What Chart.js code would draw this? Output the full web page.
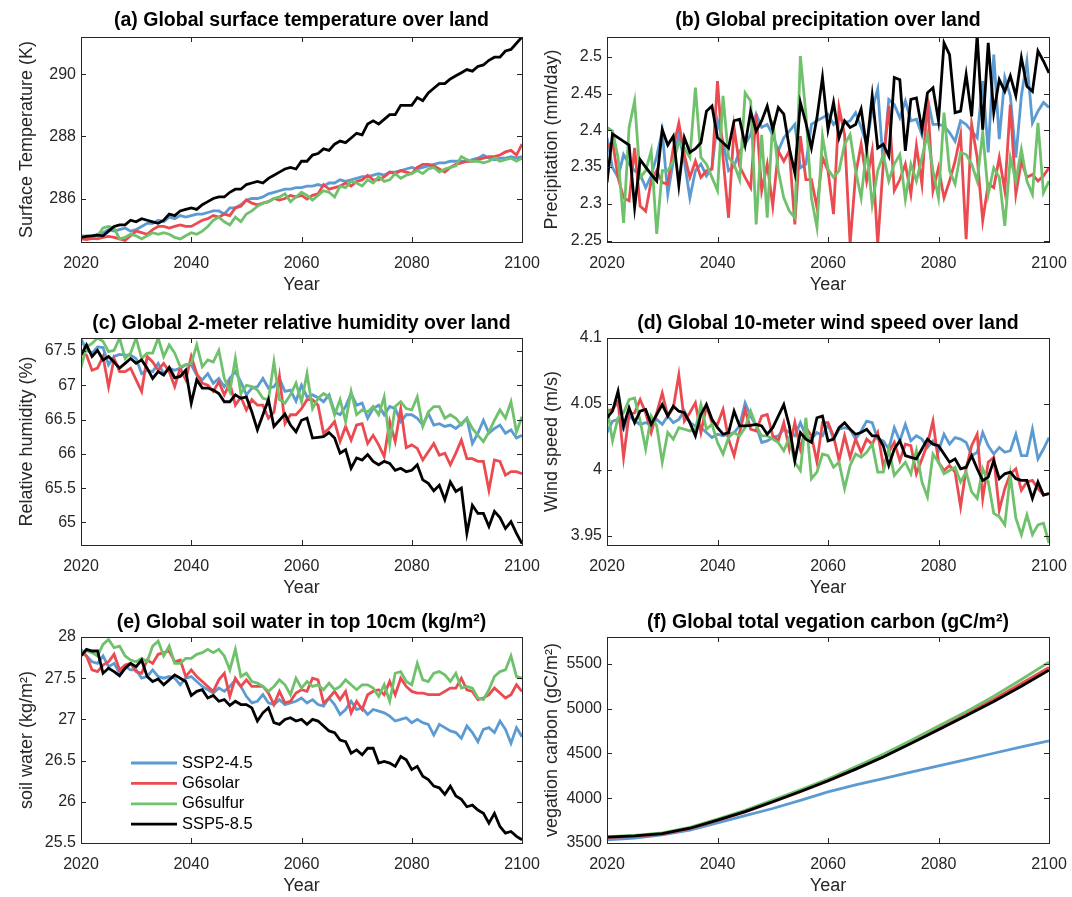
<!DOCTYPE html>
<html>
<head>
<meta charset="utf-8">
<script src="https://cdn.jsdelivr.net/npm/chart.js@4.4.1/dist/chart.umd.min.js"></script>
<style>
  html, body { margin: 0; padding: 0; background: #fff; }
  #fig { position: relative; width: 1072px; height: 897px; overflow: hidden; }
  .panel { position: absolute; }
</style>
</head>
<body>
<div id="fig">
  <div class="panel" style="left:0;top:0;width:550px;height:300px"><canvas id="pa"></canvas></div>
  <div class="panel" style="left:536px;top:0;width:536px;height:300px"><canvas id="pb"></canvas></div>
  <div class="panel" style="left:0;top:300px;width:550px;height:300px"><canvas id="pc"></canvas></div>
  <div class="panel" style="left:536px;top:300px;width:536px;height:300px"><canvas id="pd"></canvas></div>
  <div class="panel" style="left:0;top:600px;width:550px;height:297px"><canvas id="pe"></canvas></div>
  <div class="panel" style="left:536px;top:600px;width:536px;height:297px"><canvas id="pf"></canvas></div>
</div>
<script>
// ---- data ----
const seriesNames = ['SSP2-4.5', 'G6solar', 'G6sulfur', 'SSP5-8.5'];
const years = Array.from({ length: 81 }, (_, i) => 2020 + i);
const vegYears = [2020, 2025, 2030, 2035, 2040, 2045, 2050, 2055, 2060, 2065, 2070, 2075, 2080, 2085, 2090, 2095, 2100];
const yearTicks = [2020, 2040, 2060, 2080, 2100];

// (a) surface temperature (K)
const tempSSP245 = [
  284.75, 284.78, 284.80, 284.85, 284.90, 285.00, 284.95, 285.00, 285.05, 284.95,
  285.00, 285.10, 285.20, 285.20, 285.30, 285.25, 285.40, 285.35, 285.45, 285.40,
  285.45, 285.50, 285.50, 285.55, 285.60, 285.60, 285.50, 285.70, 285.70, 285.80,
  285.95, 286.00, 286.00, 286.05, 286.15, 286.20, 286.25, 286.30, 286.30, 286.35,
  286.35, 286.40, 286.40, 286.45, 286.40, 286.50, 286.50, 286.60, 286.55, 286.60,
  286.65, 286.70, 286.70, 286.75, 286.80, 286.75, 286.85, 286.85, 286.90, 286.95,
  287.00, 286.95, 287.00, 287.05, 287.10, 287.15, 287.15, 287.20, 287.20, 287.20,
  287.20, 287.25, 287.30, 287.40, 287.30, 287.25, 287.30, 287.30, 287.35, 287.30,
  287.35];
const tempG6solar = [
  284.70, 284.68, 284.72, 284.70, 284.75, 284.78, 284.75, 284.70, 284.65, 284.80,
  284.95, 284.90, 284.85, 285.00, 285.10, 285.10, 285.05, 285.10, 285.15, 285.10,
  285.10, 285.20, 285.30, 285.35, 285.45, 285.40, 285.50, 285.45, 285.70, 285.75,
  285.95, 285.85, 285.80, 285.85, 285.90, 286.00, 285.95, 286.00, 286.10, 286.05,
  286.10, 285.98, 286.10, 286.15, 286.45, 286.30, 286.35, 286.40, 286.50, 286.40,
  286.55, 286.60, 286.75, 286.60, 286.60, 286.70, 286.85, 286.80, 286.90, 286.85,
  286.80, 287.00, 287.10, 287.10, 287.05, 286.95, 286.85, 287.00, 287.10, 287.15,
  287.20, 287.20, 287.25, 287.30, 287.35, 287.35, 287.40, 287.50, 287.55, 287.40,
  287.75];
const tempG6sulfur = [
  284.80, 284.80, 284.78, 284.80, 285.05, 285.10, 285.05, 284.70, 284.75, 284.85,
  284.80, 284.70, 284.80, 284.90, 284.85, 284.90, 284.85, 284.75, 284.70, 284.80,
  284.90, 284.85, 284.95, 285.10, 285.30, 285.40, 285.25, 285.15, 285.40, 285.25,
  285.50, 285.60, 285.75, 285.85, 285.90, 286.00, 286.05, 286.15, 285.90, 286.05,
  286.20, 286.10, 285.95, 286.10, 286.25, 286.20, 286.05, 286.40, 286.35, 286.55,
  286.50, 286.40, 286.60, 286.50, 286.70, 286.55, 286.60, 286.80, 286.65, 286.75,
  286.80, 286.90, 286.80, 286.95, 287.00, 286.85, 286.95, 287.00, 287.05, 287.35,
  287.25, 287.20, 287.20, 287.15, 287.20, 287.30, 287.20, 287.25, 287.30, 287.20,
  287.30];
const tempSSP585 = [
  284.75, 284.78, 284.80, 284.82, 284.80, 284.95, 285.10, 285.15, 285.15, 285.30,
  285.25, 285.35, 285.30, 285.25, 285.20, 285.30, 285.50, 285.45, 285.60, 285.65,
  285.70, 285.65, 285.80, 285.90, 286.00, 286.05, 286.05, 286.20, 286.30, 286.30,
  286.45, 286.50, 286.55, 286.50, 286.65, 286.75, 286.85, 286.95, 287.00, 286.95,
  287.20, 287.20, 287.40, 287.45, 287.60, 287.55, 287.75, 287.85, 287.80, 287.95,
  288.10, 288.05, 288.40, 288.50, 288.40, 288.55, 288.70, 288.70, 289.00, 289.00,
  289.00, 289.25, 289.15, 289.40, 289.55, 289.70, 289.70, 289.85, 289.95, 290.05,
  290.15, 290.10, 290.25, 290.30, 290.45, 290.55, 290.55, 290.75, 290.80, 291.00,
  291.20];
const tempTicks = [286, 288, 290];

// (b) precipitation (mm/day)
const precipSSP245 = [
  2.390, 2.349, 2.336, 2.367, 2.354, 2.345, 2.340, 2.322, 2.338, 2.365,
  2.399, 2.313, 2.358, 2.394, 2.358, 2.308, 2.345, 2.354, 2.338, 2.349,
  2.413, 2.385, 2.345, 2.351, 2.372, 2.381, 2.394, 2.422, 2.404, 2.408,
  2.394, 2.372, 2.390, 2.399, 2.408, 2.349, 2.354, 2.408, 2.413, 2.417,
  2.422, 2.408, 2.417, 2.410, 2.413, 2.424, 2.404, 2.381, 2.428, 2.456,
  2.354, 2.442, 2.435, 2.417, 2.440, 2.413, 2.415, 2.394, 2.444, 2.408,
  2.408, 2.406, 2.397, 2.385, 2.413, 2.408, 2.399, 2.390, 2.467, 2.370,
  2.503, 2.388, 2.472, 2.447, 2.363, 2.447, 2.494, 2.410, 2.426, 2.438,
  2.431];
const precipG6solar = [
  2.376, 2.385, 2.336, 2.308, 2.304, 2.376, 2.297, 2.290, 2.331, 2.345,
  2.329, 2.327, 2.376, 2.410, 2.367, 2.336, 2.358, 2.336, 2.345, 2.347,
  2.467, 2.363, 2.281, 2.404, 2.351, 2.336, 2.322, 2.422, 2.318, 2.354,
  2.297, 2.372, 2.358, 2.372, 2.272, 2.392, 2.333, 2.333, 2.295, 2.363,
  2.345, 2.286, 2.431, 2.394, 2.245, 2.340, 2.381, 2.331, 2.372, 2.245,
  2.354, 2.433, 2.318, 2.333, 2.354, 2.313, 2.379, 2.327, 2.444, 2.318,
  2.349, 2.308, 2.331, 2.358, 2.394, 2.252, 2.408, 2.363, 2.277, 2.327,
  2.322, 2.363, 2.318, 2.435, 2.313, 2.358, 2.336, 2.340, 2.331, 2.338,
  2.349];
const precipG6sulfur = [
  2.404, 2.399, 2.363, 2.274, 2.404, 2.440, 2.336, 2.345, 2.372, 2.259,
  2.345, 2.345, 2.358, 2.383, 2.376, 2.363, 2.458, 2.363, 2.354, 2.336,
  2.318, 2.447, 2.363, 2.354, 2.333, 2.451, 2.440, 2.272, 2.394, 2.281,
  2.413, 2.345, 2.308, 2.290, 2.281, 2.501, 2.422, 2.308, 2.268, 2.392,
  2.347, 2.336, 2.345, 2.381, 2.394, 2.345, 2.308, 2.376, 2.299, 2.345,
  2.367, 2.331, 2.354, 2.367, 2.306, 2.354, 2.331, 2.363, 2.394, 2.345,
  2.308, 2.424, 2.345, 2.327, 2.370, 2.367, 2.354, 2.331, 2.397, 2.313,
  2.349, 2.336, 2.270, 2.363, 2.331, 2.374, 2.331, 2.313, 2.410, 2.315,
  2.331];
const precipSSP585 = [
  2.329, 2.395, 2.390, 2.385, 2.380, 2.295, 2.360, 2.350, 2.340, 2.331,
  2.401, 2.380, 2.392, 2.325, 2.390, 2.370, 2.375, 2.383, 2.426, 2.433,
  2.390, 2.383, 2.376, 2.413, 2.415, 2.380, 2.426, 2.399, 2.413, 2.433,
  2.401, 2.431, 2.422, 2.376, 2.342, 2.438, 2.410, 2.376, 2.417, 2.472,
  2.401, 2.438, 2.390, 2.413, 2.404, 2.408, 2.429, 2.376, 2.447, 2.376,
  2.381, 2.365, 2.472, 2.469, 2.372, 2.442, 2.444, 2.401, 2.451, 2.458,
  2.413, 2.519, 2.503, 2.424, 2.426, 2.476, 2.419, 2.530, 2.401, 2.519,
  2.424, 2.469, 2.453, 2.474, 2.447, 2.499, 2.460, 2.453, 2.508, 2.494,
  2.478];
const precipTicks = [2.25, 2.3, 2.35, 2.4, 2.45, 2.5];

// (c) 2-m relative humidity (%)
const rhSSP245 = [
  67.68, 67.51, 67.47, 67.56, 67.55, 67.30, 67.42, 67.45, 67.44, 67.44,
  67.39, 67.17, 67.22, 67.20, 67.32, 67.17, 67.25, 67.22, 67.25, 67.30,
  67.30, 67.15, 67.08, 67.17, 67.03, 67.10, 66.98, 67.10, 67.20, 67.05,
  66.86, 66.96, 66.98, 67.10, 66.96, 66.98, 67.10, 66.91, 66.93, 66.77,
  67.00, 66.83, 66.86, 66.82, 66.76, 66.86, 66.61, 66.57, 66.69, 66.88,
  66.71, 66.74, 66.52, 66.66, 66.71, 66.57, 66.69, 66.66, 66.47, 66.57,
  66.57, 66.52, 66.42, 66.59, 66.42, 66.44, 66.40, 66.42, 66.37, 66.44,
  66.52, 66.15, 66.30, 66.49, 66.30, 66.37, 66.42, 66.30, 66.35, 66.23,
  66.27];
const rhG6solar = [
  67.49, 67.44, 67.22, 67.25, 67.42, 66.98, 67.39, 67.20, 67.20, 67.25,
  67.08, 66.91, 67.42, 67.34, 67.22, 67.32, 67.20, 66.98, 67.25, 67.08,
  67.42, 67.17, 67.03, 67.00, 66.91, 67.05, 66.86, 67.03, 66.71, 66.83,
  66.64, 66.79, 66.71, 66.71, 66.52, 66.61, 67.13, 66.44, 66.57, 66.57,
  66.66, 66.79, 66.79, 66.71, 66.30, 66.37, 66.47, 66.18, 66.40, 66.20,
  66.42, 66.44, 66.15, 66.27, 66.13, 65.96, 66.47, 66.18, 66.66, 66.09,
  66.13, 66.08, 65.91, 66.03, 66.15, 65.98, 66.01, 65.84, 66.01, 66.20,
  65.93, 65.93, 65.89, 65.89, 65.47, 65.91, 65.89, 65.69, 65.74, 65.74,
  65.71];
const rhG6sulfur = [
  67.26, 67.56, 67.61, 67.69, 67.64, 67.49, 67.51, 67.69, 67.39, 67.47,
  67.69, 67.39, 67.47, 67.47, 67.69, 67.42, 67.59, 67.47, 67.27, 67.30,
  67.32, 67.59, 67.27, 67.37, 67.34, 67.51, 67.10, 66.91, 67.39, 66.88,
  67.00, 66.98, 66.93, 66.81, 66.79, 67.34, 66.79, 66.74, 66.86, 67.03,
  66.76, 67.17, 66.66, 66.81, 66.88, 66.83, 66.57, 66.79, 66.47, 66.91,
  66.57, 66.64, 66.61, 66.69, 66.57, 66.83, 66.15, 66.69, 66.76, 66.66,
  66.64, 66.83, 66.40, 66.61, 66.69, 66.69, 66.52, 66.57, 66.52, 66.42,
  66.52, 66.37, 66.27, 66.18, 66.32, 66.49, 66.64, 66.52, 66.76, 66.32,
  66.54];
const rhSSP585 = [
  67.44, 67.59, 67.42, 67.51, 67.37, 67.42, 67.34, 67.25, 67.32, 67.39,
  67.32, 67.37, 67.25, 67.10, 67.20, 67.15, 67.26, 67.11, 67.13, 67.22,
  66.74, 67.08, 66.96, 66.96, 66.93, 66.88, 66.76, 66.76, 66.86, 66.81,
  66.83, 66.61, 66.35, 66.57, 66.79, 66.40, 66.49, 66.58, 66.42, 66.32,
  66.49, 66.52, 66.23, 66.24, 66.25, 66.31, 66.23, 66.01, 66.06, 65.79,
  65.94, 65.91, 65.99, 65.89, 65.84, 65.89, 65.86, 65.76, 65.79, 65.74,
  65.76, 65.84, 65.62, 65.57, 65.46, 65.54, 65.33, 65.59, 65.45, 65.50,
  64.84, 65.25, 65.13, 65.13, 64.94, 65.16, 65.07, 64.91, 65.01, 64.84,
  64.69];
const rhTicks = [65, 65.5, 66, 66.5, 67, 67.5];

// (d) 10-m wind speed (m/s)
const windSSP245 = [
  4.0283, 4.0370, 4.0383, 4.0308, 4.0408, 4.0370, 4.0345, 4.0358, 4.0345, 4.0383,
  4.0345, 4.0408, 4.0358, 4.0383, 4.0445, 4.0358, 4.0333, 4.0320, 4.0283, 4.0245,
  4.0270, 4.0258, 4.0270, 4.0283, 4.0333, 4.0508, 4.0408, 4.0333, 4.0208, 4.0220,
  4.0245, 4.0258, 4.0308, 4.0283, 4.0258, 4.0358, 4.0258, 4.0233, 4.0283, 4.0258,
  4.0345, 4.0233, 4.0308, 4.0320, 4.0308, 4.0233, 4.0295, 4.0370, 4.0358, 4.0233,
  4.0220, 4.0158, 4.0320, 4.0220, 4.0345, 4.0220, 4.0258, 4.0233, 4.0170, 4.0220,
  4.0145, 4.0270, 4.0195, 4.0245, 4.0233, 4.0208, 4.0108, 4.0133, 4.0283, 4.0183,
  4.0120, 4.0170, 4.0133, 4.0145, 4.0270, 4.0108, 4.0108, 4.0308, 4.0083, 4.0158,
  4.0245];
const windG6solar = [
  4.0445, 4.0458, 4.0520, 4.0095, 4.0420, 4.0433, 4.0533, 4.0433, 4.0283, 4.0433,
  4.0583, 4.0408, 4.0470, 4.0720, 4.0370, 4.0433, 4.0508, 4.0283, 4.0483, 4.0358,
  4.0345, 4.0458, 4.0233, 4.0108, 4.0283, 4.0458, 4.0308, 4.0295, 4.0408, 4.0420,
  4.0258, 4.0220, 4.0358, 4.0158, 4.0358, 4.0158, 4.0320, 4.0258, 4.0058, 4.0358,
  4.0358, 4.0258, 4.0070, 4.0258, 4.0095, 4.0233, 4.0133, 4.0233, 4.0195, 4.0283,
  4.0033, 4.0133, 4.0208, 4.0070, 4.0195, 4.0183, 3.9970, 4.0083, 4.0195, 4.0370,
  4.0058, 3.9995, 4.0033, 3.9983, 3.9720, 4.0008, 4.0183, 4.0270, 3.9783, 4.0058,
  4.0095, 3.9695, 3.9858, 3.9970, 4.0008, 3.9845, 3.9908, 3.9920, 3.9858, 3.9808,
  3.9820];
const windG6sulfur = [
  4.0470, 4.0220, 4.0395, 4.0433, 4.0533, 4.0545, 4.0370, 4.0158, 4.0408, 4.0333,
  4.0058, 4.0283, 4.0233, 4.0320, 4.0308, 4.0295, 4.0308, 4.0495, 4.0308, 4.0345,
  4.0208, 4.0120, 4.0245, 4.0283, 4.0258, 4.0320, 4.0445, 4.0333, 4.0258, 4.0258,
  4.0233, 4.0208, 4.0145, 4.0245, 4.0058, 3.9995, 4.0395, 3.9933, 3.9983, 4.0120,
  4.0108, 4.0020, 4.0058, 3.9858, 4.0033, 4.0120, 4.0095, 4.0133, 4.0195, 3.9983,
  3.9983, 4.0158, 3.9958, 4.0008, 4.0058, 3.9970, 4.0145, 3.9908, 3.9795, 4.0120,
  4.0058, 3.9970, 3.9995, 4.0020, 3.9908, 3.9983, 3.9833, 3.9783, 4.0008, 3.9908,
  3.9670, 3.9645, 3.9583, 3.9958, 3.9633, 3.9508, 3.9658, 3.9508, 3.9583, 3.9595,
  3.9445];
const windSSP585 = [
  4.0395, 4.0445, 4.0595, 4.0333, 4.0470, 4.0358, 4.0445, 4.0458, 4.0345, 4.0420,
  4.0495, 4.0408, 4.0483, 4.0445, 4.0433, 4.0358, 4.0258, 4.0420, 4.0495, 4.0383,
  4.0320, 4.0270, 4.0283, 4.0445, 4.0333, 4.0333, 4.0338, 4.0345, 4.0333, 4.0270,
  4.0320, 4.0408, 4.0495, 4.0333, 4.0070, 4.0283, 4.0233, 4.0208, 4.0395, 4.0408,
  4.0220, 4.0233, 4.0320, 4.0358, 4.0308, 4.0270, 4.0283, 4.0308, 4.0258, 4.0258,
  4.0183, 4.0033, 4.0158, 4.0220, 4.0108, 4.0095, 4.0083, 4.0158, 4.0233, 4.0195,
  4.0183, 4.0120, 4.0058, 4.0083, 4.0008, 4.0020, 4.0108, 4.0008, 3.9920, 3.9945,
  4.0070, 3.9933, 3.9970, 3.9983, 3.9933, 3.9920, 3.9920, 3.9783, 3.9908, 3.9808,
  3.9820];
const windTicks = [3.95, 4, 4.05, 4.1];

// (e) soil water in top 10 cm (kg/m2)
const soilSSP245 = [
  27.85, 27.77, 27.70, 27.68, 27.77, 27.64, 27.68, 27.56, 27.64, 27.60,
  27.60, 27.50, 27.52, 27.60, 27.52, 27.50, 27.52, 27.50, 27.42, 27.50,
  27.52, 27.46, 27.40, 27.36, 27.32, 27.38, 27.34, 27.40, 27.48, 27.40,
  27.28, 27.20, 27.22, 27.30, 27.20, 27.18, 27.24, 27.18, 27.20, 27.22,
  27.26, 27.20, 27.24, 27.18, 27.16, 27.26, 27.18, 27.06, 27.12, 27.22,
  27.12, 27.14, 27.06, 27.12, 27.10, 27.08, 27.04, 26.98, 27.00, 27.02,
  26.96, 27.00, 26.96, 26.94, 26.81, 26.94, 26.90, 26.86, 26.84, 26.77,
  26.92, 26.84, 26.73, 26.88, 26.90, 26.84, 26.98, 26.88, 26.71, 26.90,
  26.79];
const soilG6solar = [
  27.81, 27.77, 27.60, 27.58, 27.66, 27.70, 27.79, 27.60, 27.66, 27.68,
  27.58, 27.56, 27.72, 27.68, 27.79, 27.81, 27.83, 27.70, 27.72, 27.52,
  27.60, 27.52, 27.46, 27.40, 27.34, 27.48, 27.56, 27.28, 27.50, 27.40,
  27.48, 27.40, 27.40, 27.40, 27.32, 27.18, 27.34, 27.20, 27.22, 27.32,
  27.36, 27.34, 27.50, 27.48, 27.20, 27.26, 27.34, 27.24, 27.34, 27.08,
  27.22, 27.12, 27.30, 27.34, 27.36, 27.30, 27.46, 27.30, 27.50, 27.40,
  27.34, 27.32, 27.32, 27.30, 27.30, 27.30, 27.34, 27.38, 27.38, 27.50,
  27.36, 27.34, 27.24, 27.26, 27.30, 27.38, 27.32, 27.26, 27.30, 27.42,
  27.34];
const soilG6sulfur = [
  27.81, 27.83, 27.81, 27.77, 27.91, 27.97, 27.87, 27.89, 27.77, 27.72,
  27.70, 27.74, 27.70, 27.89, 27.95, 27.77, 27.89, 27.68, 27.68, 27.74,
  27.74, 27.79, 27.81, 27.85, 27.81, 27.85, 27.77, 27.60, 27.85, 27.52,
  27.56, 27.46, 27.44, 27.40, 27.34, 27.40, 27.48, 27.42, 27.30, 27.50,
  27.38, 27.46, 27.40, 27.42, 27.36, 27.44, 27.36, 27.40, 27.48, 27.42,
  27.36, 27.42, 27.42, 27.38, 27.28, 27.42, 27.22, 27.56, 27.58, 27.46,
  27.42, 27.68, 27.48, 27.46, 27.56, 27.58, 27.54, 27.46, 27.56, 27.38,
  27.40, 27.38, 27.26, 27.24, 27.36, 27.52, 27.58, 27.60, 27.77, 27.52,
  27.50];
const soilSSP585 = [
  27.77, 27.85, 27.83, 27.83, 27.56, 27.62, 27.58, 27.53, 27.62, 27.68,
  27.64, 27.72, 27.52, 27.46, 27.49, 27.42, 27.48, 27.54, 27.50, 27.46,
  27.29, 27.34, 27.36, 27.26, 27.29, 27.22, 27.24, 27.17, 27.22, 27.18,
  27.18, 27.14, 26.98, 27.08, 27.14, 26.96, 26.94, 27.00, 27.02, 26.98,
  27.00, 26.94, 27.00, 26.98, 26.92, 26.86, 26.84, 26.75, 26.73, 26.59,
  26.63, 26.57, 26.65, 26.65, 26.47, 26.49, 26.47, 26.43, 26.55, 26.51,
  26.39, 26.43, 26.31, 26.27, 26.19, 26.17, 26.09, 26.19, 26.07, 26.03,
  25.94, 25.96, 25.90, 25.86, 25.74, 25.86, 25.70, 25.62, 25.64, 25.58,
  25.54];
const soilTicks = [25.5, 26, 26.5, 27, 27.5, 28];

// (f) total vegetation carbon (gC/m2), 5-yearly
const vegSSP245 = [3535, 3555, 3590, 3645, 3725, 3805, 3885, 3975, 4070, 4150, 4220, 4292, 4362, 4432, 4502, 4572, 4640];
const vegG6solar = [3560, 3575, 3600, 3660, 3752, 3848, 3958, 4072, 4192, 4325, 4465, 4618, 4782, 4942, 5105, 5280, 5460];
const vegG6sulfur = [3570, 3585, 3612, 3675, 3768, 3865, 3978, 4095, 4215, 4350, 4490, 4645, 4805, 4965, 5140, 5325, 5520];
const vegSSP585 = [3565, 3580, 3605, 3665, 3755, 3850, 3960, 4075, 4195, 4325, 4460, 4610, 4765, 4920, 5080, 5250, 5430];
const vegTicks = [3500, 4000, 4500, 5000, 5500];

// ---- styling ----
const colors = ['#5b9bd2', '#eb4b50', '#70c16c', '#000000'];
const fontFamily = "'Liberation Sans', Arial, Helvetica, sans-serif";
const axisColor = '#262626';

// box round the plot area with inward ticks on all four sides (matlab look)
const boxTicks = {
  id: 'boxTicks',
  afterDatasetsDraw(chart) {
    const { ctx, chartArea: a, scales: { x, y } } = chart;
    const len = 5;
    ctx.save();
    ctx.strokeStyle = axisColor;
    ctx.lineWidth = 1;
    ctx.beginPath();
    x.ticks.forEach(t => {
      const px = Math.round(x.getPixelForValue(t.value)) + 0.5;
      ctx.moveTo(px, a.bottom); ctx.lineTo(px, a.bottom - len);
      ctx.moveTo(px, a.top); ctx.lineTo(px, a.top + len);
    });
    y.ticks.forEach(t => {
      const py = Math.round(y.getPixelForValue(t.value)) + 0.5;
      ctx.moveTo(a.left, py); ctx.lineTo(a.left + len, py);
      ctx.moveTo(a.right, py); ctx.lineTo(a.right - len, py);
    });
    ctx.stroke();
    ctx.strokeRect(Math.round(a.left) + 0.5, Math.round(a.top) + 0.5,
      Math.round(a.right - a.left), Math.round(a.bottom - a.top));
    ctx.restore();
  }
};

// legend drawn inside the plot area of panel (e)
const legendInside = {
  id: 'legendInside',
  afterDraw(chart) {
    const { ctx, chartArea: a } = chart;
    ctx.save();
    ctx.font = '16.5px ' + fontFamily;
    ctx.textBaseline = 'middle';
    chart.data.datasets.forEach((d, k) => {
      const y = a.top + 126 + k * 20.4;
      ctx.strokeStyle = d.borderColor;
      ctx.lineWidth = d.borderWidth;
      ctx.beginPath();
      ctx.moveTo(a.left + 50, y);
      ctx.lineTo(a.left + 96, y);
      ctx.stroke();
      ctx.fillStyle = '#000';
      ctx.fillText(d.label, a.left + 101, y);
    });
    ctx.restore();
  }
};

function makePanel(id, o) {
  const datasets = o.series.map((ys, k) => ({
    label: seriesNames[k],
    data: ys.map((v, i) => ({ x: o.xs[i], y: v })),
    borderColor: colors[k],
    borderWidth: 2.8,
    pointRadius: 0,
    tension: 0,
    fill: false,
    order: 4 - k,
    clip: 0
  }));
  const col1 = o.col === 1;
  new Chart(document.getElementById(id), {
    type: 'line',
    data: { datasets },
    options: {
      responsive: true,
      maintainAspectRatio: false,
      animation: false,
      layout: { padding: { left: 0, right: col1 ? 28 : 23, top: 0, bottom: o.padBottom } },
      plugins: {
        legend: { display: false },
        tooltip: { enabled: false },
        title: {
          display: true,
          text: o.title,
          fullSize: false,
          color: '#000',
          font: { family: fontFamily, size: 19.5, weight: 'bold' },
          padding: { top: o.titleTop, bottom: o.titleBottom }
        }
      },
      scales: {
        x: {
          type: 'linear',
          min: 2020,
          max: 2100,
          afterBuildTicks: s => { s.ticks = yearTicks.map(v => ({ value: v })); },
          // fixed height; drop the label overhang padding so the plot box keeps its width
          afterFit: s => { s.height = 54; s.paddingLeft = 0; s.paddingRight = 0; },
          grid: { display: false, drawTicks: false },
          border: { display: false },
          ticks: {
            autoSkip: false, maxRotation: 0, padding: 12, color: axisColor,
            font: { family: fontFamily, size: 16 },
            callback: v => String(v)
          },
          title: {
            display: true, text: 'Year', color: axisColor,
            font: { family: fontFamily, size: 18 },
            padding: { top: 0, bottom: 0 }
          }
        },
        y: {
          min: o.yMin,
          max: o.yMax,
          afterBuildTicks: s => { s.ticks = o.yTicks.map(v => ({ value: v })); },
          afterFit: s => { s.width = col1 ? 81 : 71; },
          grid: { display: false, drawTicks: false },
          border: { display: false },
          ticks: {
            autoSkip: false, padding: 5, color: axisColor,
            font: { family: fontFamily, size: 16 },
            callback: v => String(v)
          },
          title: {
            display: true, text: o.yTitle, color: axisColor,
            font: { family: fontFamily, size: 18 },
            padding: { top: col1 ? 16.5 : 5.5, bottom: 0 }
          }
        }
      }
    },
    plugins: o.legend ? [boxTicks, legendInside] : [boxTicks]
  });
}

makePanel('pa', {
  col: 1, xs: years, series: [tempSSP245, tempG6solar, tempG6sulfur, tempSSP585],
  yMin: 284.6, yMax: 291.2, yTicks: tempTicks,
  title: '(a) Global surface temperature over land', yTitle: 'Surface Temperature (K)',
  titleTop: 8.5, titleBottom: 5.1, padBottom: 4
});
makePanel('pb', {
  col: 2, xs: years, series: [precipSSP245, precipG6solar, precipG6sulfur, precipSSP585],
  yMin: 2.248, yMax: 2.527, yTicks: precipTicks,
  title: '(b) Global precipitation over land', yTitle: 'Precipitation (mm/day)',
  titleTop: 8.5, titleBottom: 5.1, padBottom: 4
});
makePanel('pc', {
  col: 1, xs: years, series: [rhSSP245, rhG6solar, rhG6sulfur, rhSSP585],
  yMin: 64.67, yMax: 67.69, yTicks: rhTicks,
  title: '(c) Global 2-meter relative humidity over land', yTitle: 'Relative humidity (%)',
  titleTop: 11.5, titleBottom: 3.1, padBottom: 1
});
makePanel('pd', {
  col: 2, xs: years, series: [windSSP245, windG6solar, windG6sulfur, windSSP585],
  yMin: 3.943, yMax: 4.1, yTicks: windTicks,
  title: '(d) Global 10-meter wind speed over land', yTitle: 'Wind speed (m/s)',
  titleTop: 11.5, titleBottom: 3.1, padBottom: 1
});
makePanel('pe', {
  col: 1, xs: years, series: [soilSSP245, soilG6solar, soilG6sulfur, soilSSP585],
  yMin: 25.5, yMax: 28, yTicks: soilTicks, legend: true,
  title: '(e) Global soil water in top 10cm (kg/m\u00B2)', yTitle: 'soil water (kg/m\u00B2)',
  titleTop: 10.5, titleBottom: 3.1, padBottom: 0
});
makePanel('pf', {
  col: 2, xs: vegYears, series: [vegSSP245, vegG6solar, vegG6sulfur, vegSSP585],
  yMin: 3500, yMax: 5800, yTicks: vegTicks,
  title: '(f) Global total vegation carbon (gC/m\u00B2)', yTitle: 'vegation carbon (gC/m\u00B2)',
  titleTop: 10.5, titleBottom: 3.1, padBottom: 0
});
</script>
</body>
</html>
